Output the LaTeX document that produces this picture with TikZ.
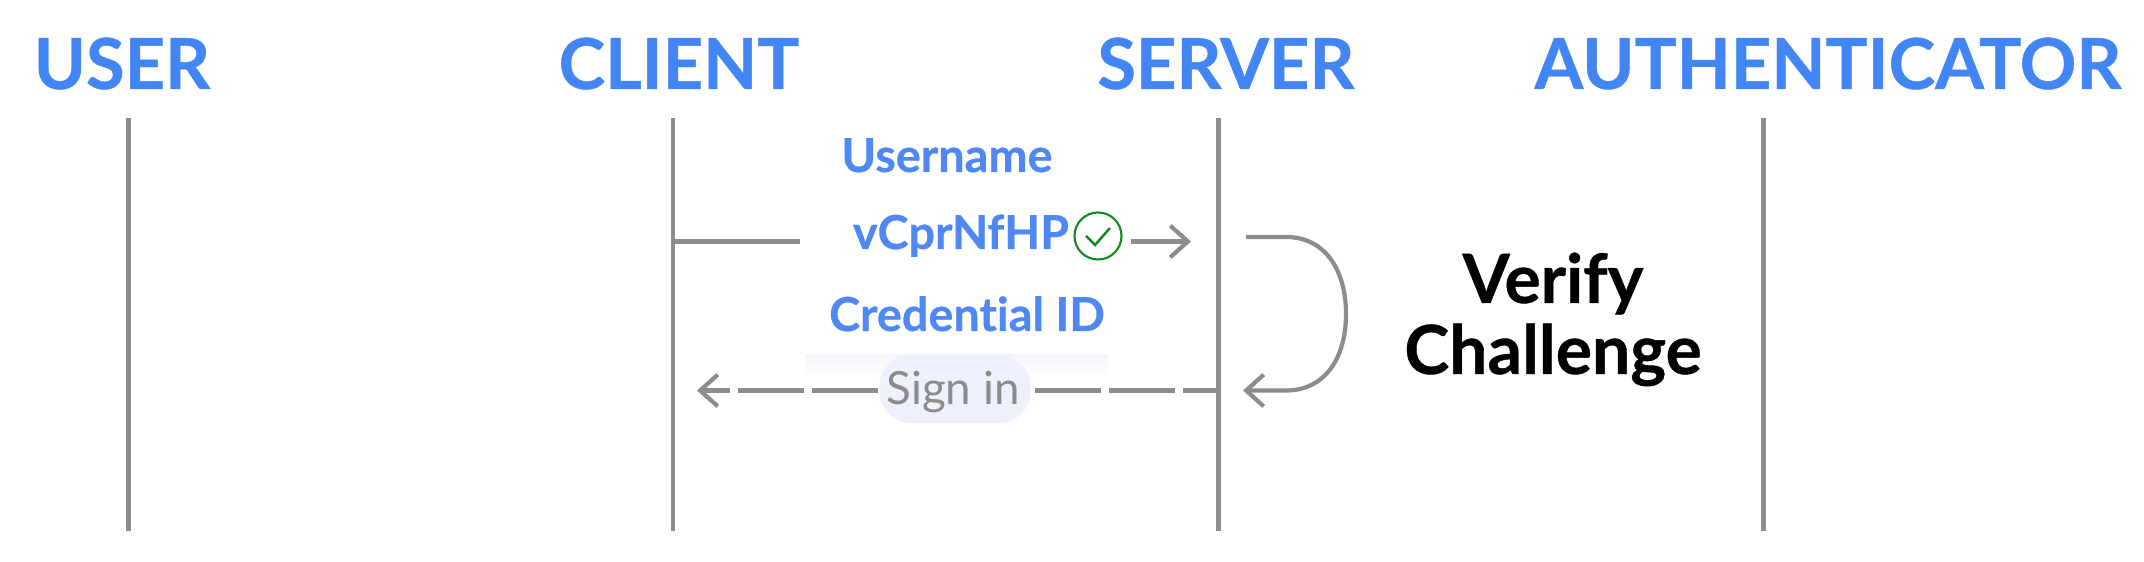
\documentclass[tikz,border=0pt]{standalone}
\usepackage{fontspec}
\setmainfont[Ligatures=NoCommon,BoldFeatures={FakeBold=0.6}]{Lato}
\usetikzlibrary{arrows.meta,shapes}
\definecolor{titleblue}{HTML}{4285F4}
\definecolor{labelblue}{HTML}{4F88F5}
\definecolor{linegray}{HTML}{8C8C8C}
\definecolor{checkgreen}{HTML}{128A1E}
\definecolor{pillfill}{HTML}{EEF1FB}
\definecolor{cardshadow}{HTML}{F5F6FA}
\tikzstyle{title}=[text=titleblue,font=\fontsize{20}{20}\selectfont\bfseries,anchor=base,inner sep=0pt]
\tikzstyle{label}=[text=labelblue,font=\fontsize{13.3}{13.3}\selectfont\bfseries,anchor=base,inner sep=0pt]
\tikzstyle{verify}=[text=black,font=\fontsize{19.3}{19.3}\selectfont\bfseries,anchor=base,inner sep=0pt]
\tikzstyle{lifeline}=[draw=linegray,line width=1.2pt]
\tikzstyle{edge}=[draw=linegray,line width=1.2pt]
\tikzstyle{arrowedge}=[edge,-{Straight Barb[length=5pt,width=9pt,line width=1.2pt]}]

\begin{document}
\begin{tikzpicture}[x=.01cm,y=-.01cm]
        \useasboundingbox (0,0) rectangle (2144,562);
        % titles
        \node[title] (user) at (122,89) {USER};
        \node[title] (client) at (679,89) {CLIENT};
        \node[title] (server) at (1226,89) {SERVER};
        \node[title] (authenticator) at (1828,89) {AUTHENTICATOR};
        % lifelines
        \coordinate (user top) at (128.5,118);
        \coordinate (user bottom) at (128.5,531);
        \coordinate (client top) at (673,118);
        \coordinate (client bottom) at (673,531);
        \coordinate (server top) at (1218.5,118);
        \coordinate (server bottom) at (1218.5,531);
        \coordinate (authenticator top) at (1763.5,118);
        \coordinate (authenticator bottom) at (1763.5,531);
        \draw[lifeline] (user top) to (user bottom);
        \draw[lifeline] (client top) to (client bottom);
        \draw[lifeline] (server top) to (server bottom);
        \draw[lifeline] (authenticator top) to (authenticator bottom);
        % message card
        \shade[top color=cardshadow,bottom color=white] (805,355) rectangle (1108,378);
        \node[label] (username) at (947,172) {Username};
        \node[label] (challenge) at (961,249) {vCprNfHP};
        \node[label] (credential) at (967,331) {Credential ID};
        \node[circle,draw=checkgreen,line width=.6pt,minimum size=47pt*.2845,inner sep=0pt] (check) at (1098,236) {};
        \draw[checkgreen,line width=.7pt] (1086,236) to (1095,245) to (1110,228);
        % first message
        \coordinate (send start) at (673,241.5);
        \coordinate (send stop) at (800,241.5);
        \coordinate (send resume) at (1131,241.5);
        \coordinate (send end) at (1191,241.5);
        \draw[edge] (send start) to (send stop);
        \draw[arrowedge] (send resume) to (send end);
        % verify loop
        \coordinate (loop start) at (1246,237);
        \coordinate (loop end) at (1243,390.5);
        \draw[arrowedge] (loop start) -- (1286,237) .. controls (1325,237) and (1346,270) .. (1346,314) .. controls (1346,358) and (1325,390.5) .. (1286,390.5) -- (loop end);
        \node[verify] (verify) at (1553,303) {Verify};
        \node[verify] (verify challenge) at (1553,374) {Challenge};
        % sign in
        \coordinate (return start) at (1218.5,390.5);
        \coordinate (return end) at (697,390.5);
        \draw[arrowedge,dash pattern=on 18.8pt off 2.3pt,dash phase=8.8pt] (return start) to (return end);
        \node[rectangle,rounded corners=9pt,fill=pillfill,minimum width=151pt*.2845,minimum height=68pt*.2845,inner sep=0pt] (pill) at (955,389) {};
        \node[text=linegray,font=\fontsize{13}{13}\selectfont,anchor=base,inner sep=0pt] (sign in) at (953,405) {Sign in};
\end{tikzpicture}
\end{document}
